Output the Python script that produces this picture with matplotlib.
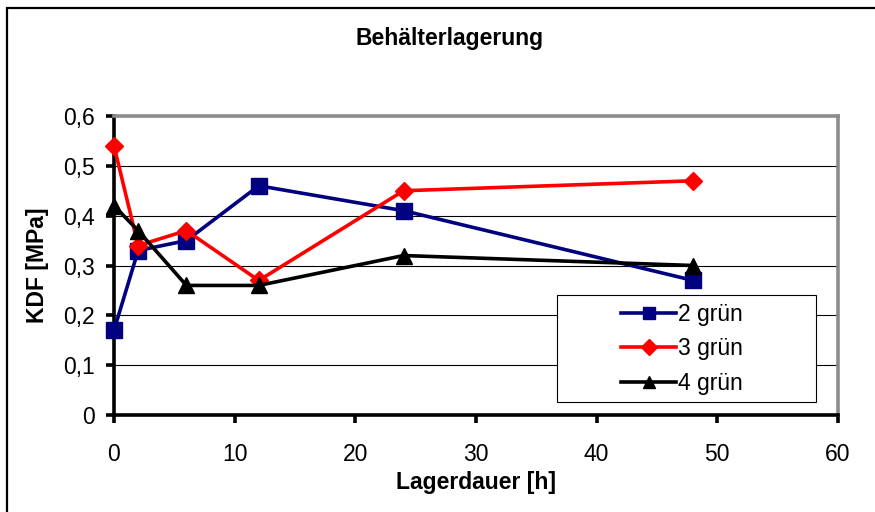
import matplotlib
matplotlib.use("Agg")
import matplotlib.pyplot as plt
from matplotlib.patches import Rectangle
from matplotlib.ticker import FuncFormatter

plt.rcParams['font.family'] = ['Liberation Sans', 'DejaVu Sans']

stunden = [0, 2, 6, 12, 24, 48]
gruen_2 = [0.17, 0.33, 0.35, 0.46, 0.41, 0.27]
gruen_3 = [0.54, 0.34, 0.37, 0.27, 0.45, 0.47]
gruen_4 = [0.42, 0.37, 0.26, 0.26, 0.32, 0.30]
y_ticks = [0, 0.1, 0.2, 0.3, 0.4, 0.5, 0.6]
x_ticks = [0, 10, 20, 30, 40, 50, 60]

FS = 16.5

fig = plt.figure(figsize=(8.75, 5.12), dpi=100)
ax = fig.add_axes([114/875, 1-415/512, (838-114)/875, (415-116)/512])

# outer frame like the excel chart area
fig.patches.append(Rectangle((7/875, -0.05), 1.1, 1-8/512+0.05, transform=fig.transFigure,
                             fill=False, edgecolor='black', linewidth=1.6))

ax.plot(stunden, gruen_2, color='#000080', marker='s', markersize=12, linewidth=2.6,
        label='2 grün', clip_on=False, zorder=3)
ax.plot(stunden, gruen_3, color='#ff0000', marker='D', markersize=9, linewidth=2.6,
        label='3 grün', clip_on=False, zorder=3)
ax.plot(stunden, gruen_4, color='black', marker='^', markersize=11, linewidth=2.6,
        label='4 grün', clip_on=False, zorder=3)

ax.set_xlim(0, 60)
ax.set_ylim(0, 0.6)
ax.set_xticks(x_ticks)
ax.set_yticks(y_ticks)
ax.yaxis.set_major_formatter(FuncFormatter(lambda v, p: ('%g' % round(v, 1)).replace('.', ',')))
ax.grid(axis='y', color='black', linewidth=0.8)
ax.set_axisbelow(True)

for s in ['left', 'bottom']:
    ax.spines[s].set_linewidth(2.6)
    ax.spines[s].set_color('black')
for s in ['right', 'top']:
    ax.spines[s].set_linewidth(2.6)
    ax.spines[s].set_color('#8c8c8c')

ax.tick_params(axis='both', direction='out', length=6, width=2.6, labelsize=FS, color='black')
ax.tick_params(axis='y', pad=8)
ax.tick_params(axis='x', pad=14)

ax.set_xlabel('Lagerdauer [h]', fontsize=FS, fontweight='bold', labelpad=4)
ax.set_ylabel('KDF [MPa]', fontsize=FS, fontweight='bold', labelpad=10)
fig.text(450/875, 1-38/512, 'Behälterlagerung', ha='center', va='center',
         fontsize=FS, fontweight='bold')

# legend box (wide excel style box with the entries on the right)
box_x0, box_x1 = (557-114)/724, (816-114)/724
box_y0, box_y1 = (415-402)/299, (415-295)/299
ax.add_patch(Rectangle((box_x0, box_y0), box_x1-box_x0, box_y1-box_y0, transform=ax.transAxes,
                       facecolor='white', edgecolor='black', linewidth=0.8, zorder=4))
leg = ax.legend(loc='center left', bbox_to_anchor=((621-114)/724, (415-349)/299),
                fontsize=FS, frameon=False, handlelength=2.4, handletextpad=0.1,
                labelspacing=0.5, borderpad=0, borderaxespad=0)
leg.set_zorder(5)
for h in leg.legend_handles:
    h.set_markersize(8)

fig.savefig('out.png', dpi=100)
